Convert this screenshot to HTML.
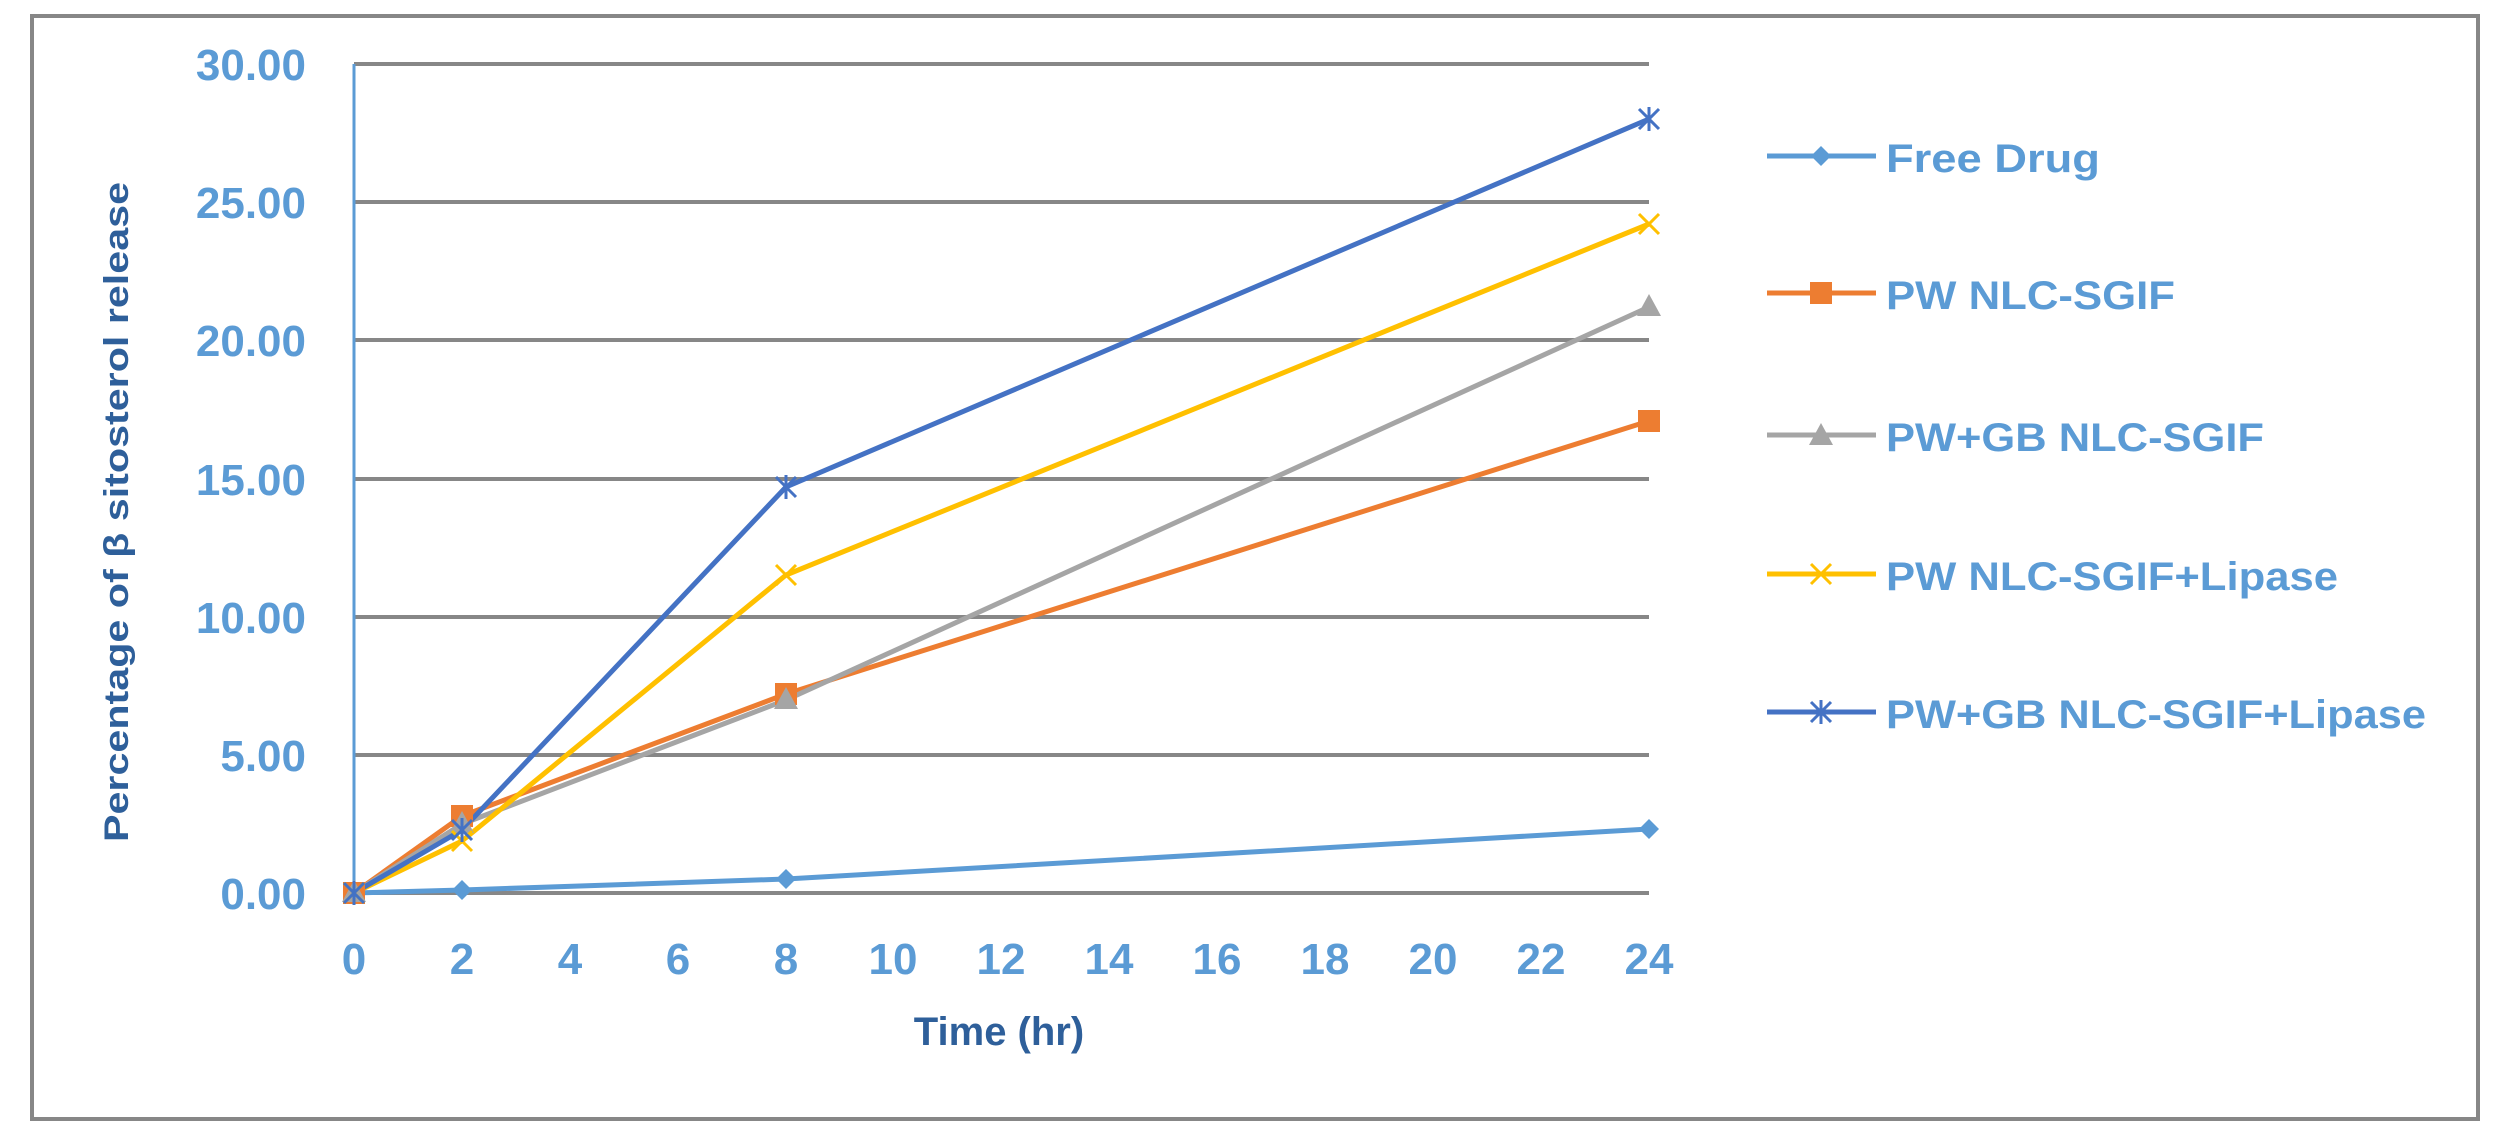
<!DOCTYPE html>
<html><head><meta charset="utf-8"><style>html,body{margin:0;padding:0;background:#fff}svg{display:block}</style></head>
<body>
<svg width="2499" height="1137" viewBox="0 0 2499 1137" xmlns="http://www.w3.org/2000/svg" font-family="Liberation Sans, sans-serif" font-weight="bold">
<rect x="0" y="0" width="2499" height="1137" fill="#fff"/>
<rect x="32" y="16" width="2446" height="1103" fill="none" stroke="#878787" stroke-width="4"/>
<g stroke="#878787" stroke-width="4">
<line x1="354" y1="64" x2="1649" y2="64"/>
<line x1="354" y1="202" x2="1649" y2="202"/>
<line x1="354" y1="340" x2="1649" y2="340"/>
<line x1="354" y1="479" x2="1649" y2="479"/>
<line x1="354" y1="617" x2="1649" y2="617"/>
<line x1="354" y1="755" x2="1649" y2="755"/>
<line x1="354" y1="893" x2="1649" y2="893"/>
</g>
<line x1="354" y1="64" x2="354" y2="893" stroke="#5b9bd5" stroke-width="3"/>
<g fill="#5b9bd5" font-size="44" text-anchor="end">
<text x="306" y="80">30.00</text>
<text x="306" y="218">25.00</text>
<text x="306" y="356">20.00</text>
<text x="306" y="495">15.00</text>
<text x="306" y="633">10.00</text>
<text x="306" y="771">5.00</text>
<text x="306" y="909">0.00</text>
</g>
<g fill="#5b9bd5" font-size="44" text-anchor="middle">
<text x="354" y="974">0</text><text x="462" y="974">2</text><text x="570" y="974">4</text>
<text x="678" y="974">6</text><text x="786" y="974">8</text><text x="893" y="974">10</text>
<text x="1001" y="974">12</text><text x="1109" y="974">14</text><text x="1217" y="974">16</text>
<text x="1325" y="974">18</text><text x="1433" y="974">20</text><text x="1541" y="974">22</text>
<text x="1649" y="974">24</text>
</g>
<text x="999" y="1045" fill="#2e5f9a" font-size="40" text-anchor="middle">Time (hr)</text>
<text transform="translate(128,512) rotate(-90)" fill="#2e5f9a" font-size="34" text-anchor="middle" textLength="660" lengthAdjust="spacingAndGlyphs">Percentage of β sitosterol release</text>
<g fill="none" stroke-width="5" stroke-linejoin="round">
<polyline stroke="#5b9bd5" points="354,893 462,890 786,879 1649,829"/>
<polyline stroke="#ed7d31" points="354,893 462,816 786,694 1649,421"/>
<polyline stroke="#a5a5a5" points="354,893 462,824 786,700 1649,307"/>
<polyline stroke="#ffc000" points="354,893 462,841 786,575 1649,224"/>
<polyline stroke="#4472c4" points="354,893 462,830 786,487 1649,119"/>
</g>
<g fill="#5b9bd5">
<path d="M354,883 l10,10 -10,10 -10,-10z"/><path d="M462,880 l10,10 -10,10 -10,-10z"/>
<path d="M786,869 l10,10 -10,10 -10,-10z"/><path d="M1649,819 l10,10 -10,10 -10,-10z"/>
</g>
<g fill="#ed7d31">
<rect x="343" y="882" width="22" height="22"/><rect x="451" y="805" width="22" height="22"/>
<rect x="775" y="683" width="22" height="22"/><rect x="1638" y="410" width="22" height="22"/>
</g>
<g fill="#a5a5a5">
<path d="M354,880 l12,22 h-24z"/><path d="M462,811 l12,22 h-24z"/>
<path d="M786,687 l12,22 h-24z"/><path d="M1649,294 l12,22 h-24z"/>
</g>
<g stroke="#ffc000" stroke-width="3">
<path d="M344,883 l20,20 M364,883 l-20,20"/><path d="M452,831 l20,20 M472,831 l-20,20"/>
<path d="M776,565 l20,20 M796,565 l-20,20"/><path d="M1639,214 l20,20 M1659,214 l-20,20"/>
</g>
<g stroke="#4472c4" stroke-width="3">
<path d="M344,883 l20,20 M364,883 l-20,20 M354,881 v24"/><path d="M452,820 l20,20 M472,820 l-20,20 M462,818 v24"/>
<path d="M776,477 l20,20 M796,477 l-20,20 M786,475 v24"/><path d="M1639,109 l20,20 M1659,109 l-20,20 M1649,107 v24"/>
</g>
<g stroke-width="5">
<line x1="1767" y1="156" x2="1876" y2="156" stroke="#5b9bd5"/>
<line x1="1767" y1="293" x2="1876" y2="293" stroke="#ed7d31"/>
<line x1="1767" y1="435" x2="1876" y2="435" stroke="#a5a5a5"/>
<line x1="1767" y1="574" x2="1876" y2="574" stroke="#ffc000"/>
<line x1="1767" y1="712" x2="1876" y2="712" stroke="#4472c4"/>
</g>
<path d="M1821,146 l10,10 -10,10 -10,-10z" fill="#5b9bd5"/>
<rect x="1810" y="282" width="22" height="22" fill="#ed7d31"/>
<path d="M1821,423 l12,22 h-24z" fill="#a5a5a5"/>
<path d="M1811,564 l20,20 M1831,564 l-20,20" stroke="#ffc000" stroke-width="3"/>
<path d="M1811,702 l20,20 M1831,702 l-20,20 M1821,700 v24" stroke="#4472c4" stroke-width="3"/>
<g fill="#5b9bd5" font-size="40">
<text x="1886" y="172" textLength="214" lengthAdjust="spacingAndGlyphs">Free Drug</text>
<text x="1886" y="309" textLength="289" lengthAdjust="spacingAndGlyphs">PW NLC-SGIF</text>
<text x="1886" y="451" textLength="378" lengthAdjust="spacingAndGlyphs">PW+GB NLC-SGIF</text>
<text x="1886" y="590" textLength="452" lengthAdjust="spacingAndGlyphs">PW NLC-SGIF+Lipase</text>
<text x="1886" y="728" textLength="540" lengthAdjust="spacingAndGlyphs">PW+GB NLC-SGIF+Lipase</text>
</g>
</svg>
</body></html>
